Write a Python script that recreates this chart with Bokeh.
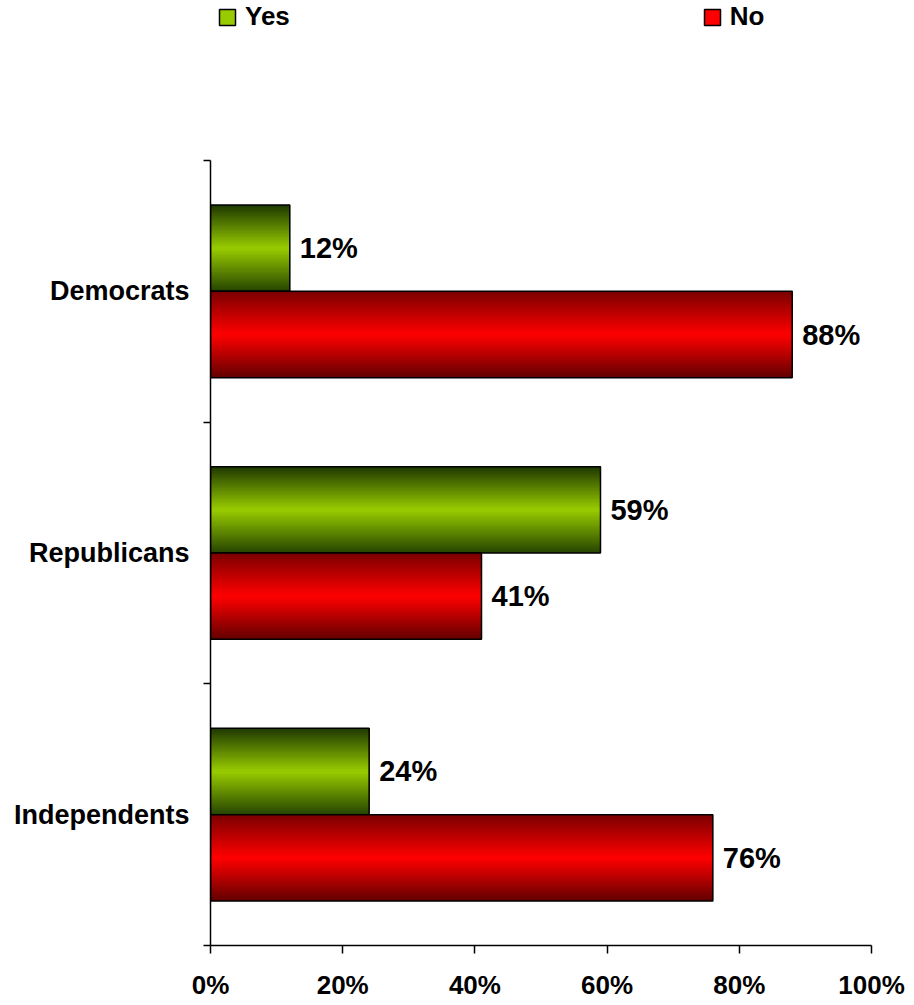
from bokeh.plotting import figure
from bokeh.layouts import column
from bokeh.models import (Range1d, FixedTicker, Legend, LegendItem, ColumnDataSource)
from bokeh.core.properties import value
from bokeh.embed import file_html
from bokeh.resources import INLINE

# ---- data ----
categories = ["Democrats", "Republicans", "Independents"]
yes_values = [12, 59, 24]
no_values = [88, 41, 76]
series_names = ["Yes", "No"]
x_ticks = [0, 20, 40, 60, 80, 100]
x_tick_labels = ["0%", "20%", "40%", "60%", "80%", "100%"]

# ---- style ----
FONT = "Liberation Sans"
GREEN_DARK_TOP = (0x1e, 0x38, 0x00)
GREEN_MID = (0x99, 0xcc, 0x00)
GREEN_DARK_BOT = (0x26, 0x44, 0x00)
RED_DARK_TOP = (0x7a, 0x00, 0x00)
RED_MID = (0xff, 0x00, 0x00)
RED_DARK_BOT = (0x62, 0x00, 0x00)
BAR_H = 0.33
N_STRIPS = 40
LEG_H = 40
LEFT = 210
RIGHT = 35
FW = 661

n = len(categories)
cat_pos = [n - 0.5 - i for i in range(n)]  # top to bottom

p = figure(frame_width=FW, frame_height=785,
           min_border_left=LEFT, min_border_top=160 - LEG_H, min_border_right=RIGHT, min_border_bottom=48,
           x_range=Range1d(0, 100), y_range=Range1d(0, n),
           output_backend="svg", toolbar_location=None)
p.outline_line_color = None
p.xgrid.visible = False
p.ygrid.visible = False
p.background_fill_color = "white"
p.border_fill_color = "white"


def lerp(a, b, t):
    return tuple(int(round(a[j] + (b[j] - a[j]) * t)) for j in range(3))


def grad(t, top, mid, bot):
    # t: 0 at top, 1 at bottom
    if t < 0.5:
        c = lerp(top, mid, t / 0.5)
    else:
        c = lerp(mid, bot, (t - 0.5) / 0.5)
    return "#%02x%02x%02x" % c


def draw_series(vals, offset, top, mid, bot):
    bottoms, tops, rights, cols = [], [], [], []
    for i, v in enumerate(vals):
        center = cat_pos[i] + offset
        y0 = center - BAR_H / 2
        y1 = center + BAR_H / 2
        for k in range(N_STRIPS):
            yb = y0 + k * BAR_H / N_STRIPS
            t = 1 - (k + 0.5) / N_STRIPS
            bottoms.append(yb)
            tops.append(y1)
            rights.append(v)
            cols.append(grad(t, top, mid, bot))
    src = ColumnDataSource(dict(bottom=bottoms, top=tops, right=rights, c=cols))
    p.quad(left=0, right="right", bottom="bottom", top="top", fill_color="c",
           line_color=None, source=src)
    osrc = ColumnDataSource(dict(y=[cp + offset for cp in cat_pos], right=vals,
                                 lab=[f"{v}%" for v in vals]))
    p.hbar(y="y", left=0, right="right", height=BAR_H, fill_color=None,
           line_color="black", line_width=1.5, source=osrc)
    p.text(x="right", y="y", text="lab", source=osrc, x_offset=10,
           text_baseline="middle", text_align="left",
           text_font=value(FONT), text_font_style="bold", text_font_size="29px",
           text_color="black")


draw_series(yes_values, BAR_H / 2, GREEN_DARK_TOP, GREEN_MID, GREEN_DARK_BOT)
draw_series(no_values, -BAR_H / 2, RED_DARK_TOP, RED_MID, RED_DARK_BOT)

# x axis
xa = p.xaxis[0]
xa.ticker = FixedTicker(ticks=x_ticks, minor_ticks=[])
xa.major_label_overrides = {t: l for t, l in zip(x_ticks, x_tick_labels)}
xa.major_tick_out = 8
xa.major_tick_in = 0
xa.minor_tick_out = 0
xa.minor_tick_in = 0
xa.axis_line_width = 1.5
xa.major_tick_line_width = 1.5
xa.axis_line_color = "black"
xa.major_tick_line_color = "black"
xa.major_label_standoff = 16
xa.major_label_text_font = FONT
xa.major_label_text_font_style = "bold"
xa.major_label_text_font_size = "26px"
xa.major_label_text_color = "black"

# y axis
ya = p.yaxis[0]
ya.ticker = FixedTicker(ticks=cat_pos, minor_ticks=[float(k) for k in range(n + 1)])
ya.major_label_overrides = {cp: c for cp, c in zip(cat_pos, categories)}
ya.major_tick_out = 0
ya.major_tick_in = 0
ya.minor_tick_out = 7
ya.minor_tick_in = 0
ya.minor_tick_line_width = 1.5
ya.minor_tick_line_color = "black"
ya.axis_line_width = 1.5
ya.axis_line_color = "black"
ya.major_label_standoff = 14
ya.major_label_text_font = FONT
ya.major_label_text_font_style = "bold"
ya.major_label_text_font_size = "27px"
ya.major_label_text_color = "black"

# ---- legend strip above the chart (frame aligned with the main chart) ----
lf = figure(frame_width=FW, frame_height=LEG_H, min_border_left=LEFT, min_border_right=RIGHT,
            min_border_top=0, min_border_bottom=0,
            x_range=Range1d(0, 1), y_range=Range1d(0, 1),
            output_backend="svg", toolbar_location=None)
lf.axis.visible = False
lf.grid.visible = False
lf.outline_line_color = None
lf.background_fill_color = "white"
lf.border_fill_color = "white"

# invisible (off-range) swatch renderers used only for the legend glyphs
r_yes = lf.quad(left=[5], right=[6], top=[6], bottom=[5], fill_color="#99cc00",
                line_color="black", line_width=1.5)
r_no = lf.quad(left=[5], right=[6], top=[6], bottom=[5], fill_color="#ff0000",
               line_color="black", line_width=1.5)

legend = Legend(items=[LegendItem(label=series_names[0], renderers=[r_yes]),
                       LegendItem(label=series_names[1], renderers=[r_no])],
                orientation="horizontal", location=(7, 8), spacing=412,
                padding=0, margin=0, border_line_color=None, background_fill_alpha=0,
                glyph_width=20, glyph_height=20, label_standoff=8,
                label_text_font=FONT, label_text_font_style="bold",
                label_text_color="black",
                label_text_font_size="26px", label_text_baseline="middle")
lf.add_layout(legend, "center")

layout = column(lf, p, spacing=0)
open("out.html", "w").write(file_html(layout, INLINE))
